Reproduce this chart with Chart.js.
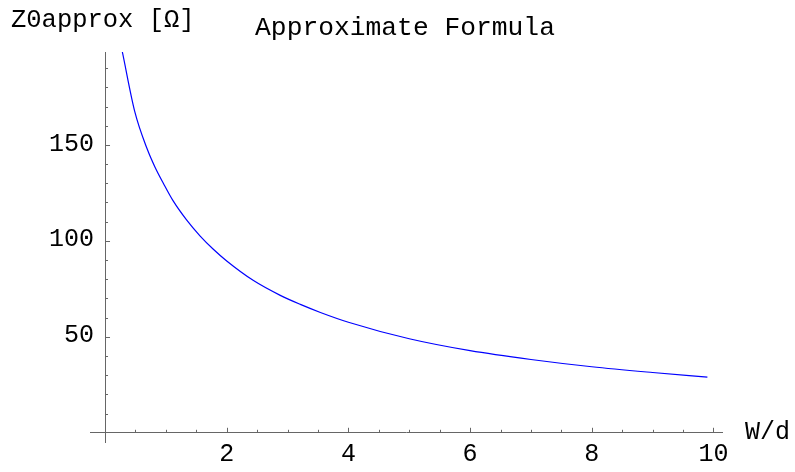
<!DOCTYPE html>
<html>
<head>
<meta charset="utf-8">
<script src="https://cdn.jsdelivr.net/npm/chart.js@4"></script>
<style>
  html, body { margin: 0; padding: 0; background: #fff; }
  #wrap { width: 795px; height: 472px; }
</style>
</head>
<body>
<div id="wrap"><canvas id="z0Chart" width="795" height="472"></canvas></div>
<script>
// W/d and the approximate Z0
const widthRatio = [0.285, 0.49, 0.69, 0.82, 0.96, 1.12, 1.34, 1.56, 1.78, 2.0, 2.44, 2.88, 3.21, 3.54, 4.0, 5.0, 6.0, 7.0, 8.0, 9.0, 9.9];
const z0Approx = [198.4, 167.2, 148.1, 138.5, 129.9, 120.8, 110.9, 102.6, 95.6, 89.5, 79.3, 71.6, 66.9, 62.7, 57.6, 49.0, 42.8, 38.2, 34.4, 31.4, 29.0];

const xTicks = [2, 4, 6, 8, 10];
const yTicks = [50, 100, 150];

const xLabel = "W/d";
const yLabel = "Z0approx [Ω]";
const titleText = "Approximate Formula";

const monoFont = "'Liberation Mono', 'Courier New', monospace";
const axisColor = "#666666";

// short inward ticks, tick numbers and labels, Mathematica style
// (chart.js ignores ticks.padding on axes placed with position: {x: 0})
const axisExtras = {
  id: "axisExtras",
  afterDraw(chart) {
    const ctx = chart.ctx;
    const xs = chart.scales.x;
    const ys = chart.scales.y;
    const x0 = xs.getPixelForValue(0);
    const y0 = ys.getPixelForValue(0);

    ctx.save();
    ctx.strokeStyle = axisColor;
    ctx.lineWidth = 1;
    ctx.beginPath();
    for (let v = 0.5; v <= xs.max; v += 0.5) {
      const px = Math.round(xs.getPixelForValue(v)) + 0.5;
      const len = xTicks.includes(v) ? 5 : 3;
      ctx.moveTo(px, y0);
      ctx.lineTo(px, y0 - len);
    }
    for (let v = 10; v <= ys.max; v += 10) {
      const py = Math.round(ys.getPixelForValue(v)) + 0.5;
      const len = yTicks.includes(v) ? 5 : 3;
      ctx.moveTo(x0, py);
      ctx.lineTo(x0 + len, py);
    }
    ctx.stroke();

    ctx.fillStyle = "#000";
    ctx.font = "25px " + monoFont;

    // tick numbers
    ctx.textAlign = "center";
    ctx.textBaseline = "alphabetic";
    xTicks.forEach((v) => {
      ctx.fillText(String(v), xs.getPixelForValue(v), y0 + 28);
    });
    ctx.textAlign = "right";
    ctx.textBaseline = "middle";
    yTicks.forEach((v) => {
      ctx.fillText(String(v), x0 - 11, ys.getPixelForValue(v) - 1);
    });

    // axis labels and title
    ctx.textBaseline = "alphabetic";
    ctx.textAlign = "left";
    ctx.font = "25.5px " + monoFont;
    ctx.fillText(yLabel, 11, 27);
    ctx.textAlign = "center";
    ctx.font = "26.3px " + monoFont;
    ctx.fillText(titleText, 405, 35);
    ctx.textAlign = "left";
    ctx.textBaseline = "middle";
    ctx.font = "25px " + monoFont;
    ctx.fillText(xLabel, 745, y0);
    ctx.restore();
  }
};

const ctx = document.getElementById("z0Chart");

new Chart(ctx, {
  type: "line",
  data: {
    datasets: [
      {
        data: widthRatio.map((x, i) => ({ x: x, y: z0Approx[i] })),
        borderColor: "#0000ff",
        borderWidth: 1.2,
        pointRadius: 0,
        cubicInterpolationMode: "monotone",
        fill: false
      }
    ]
  },
  options: {
    responsive: false,
    animation: false,
    layout: {
      padding: { left: 90, right: 73, top: 52, bottom: 30 }
    },
    plugins: {
      legend: { display: false },
      tooltip: { enabled: false }
    },
    scales: {
      x: {
        type: "linear",
        min: -0.247,
        max: 10.14,
        position: { y: 0 },
        grid: { display: false },
        border: { color: axisColor, width: 1 },
        ticks: { display: false },
        afterBuildTicks: (scale) => {
          scale.ticks = xTicks.map((v) => ({ value: v }));
        }
      },
      y: {
        type: "linear",
        min: -4.8,
        max: 198.4,
        position: { x: 0 },
        grid: { display: false },
        border: { color: axisColor, width: 1 },
        ticks: { display: false },
        afterBuildTicks: (scale) => {
          scale.ticks = yTicks.map((v) => ({ value: v }));
        }
      }
    }
  },
  plugins: [axisExtras]
});
</script>
</body>
</html>
